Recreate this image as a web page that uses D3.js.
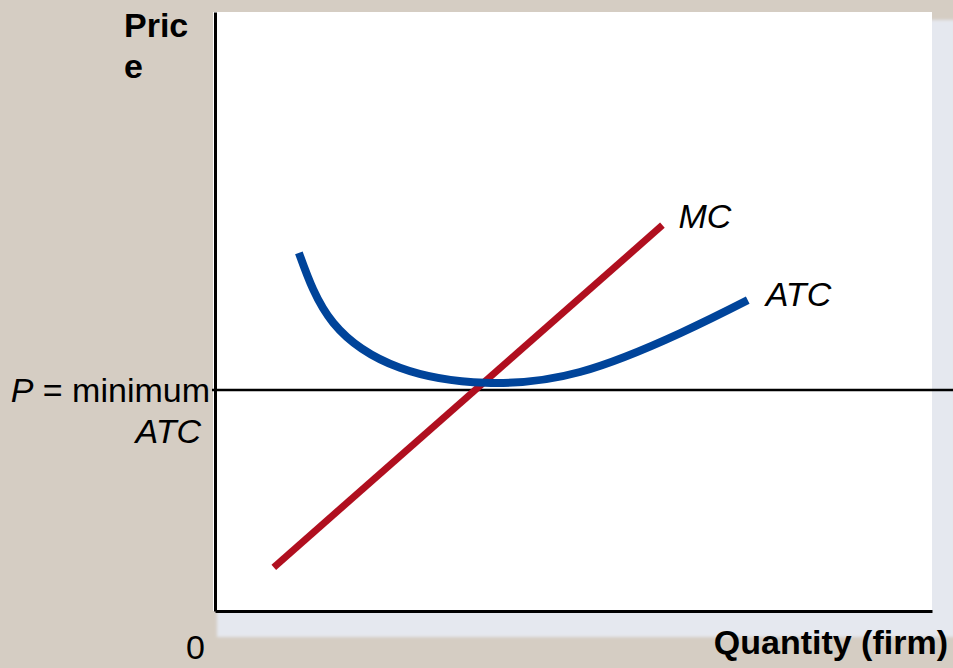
<!DOCTYPE html>
<html>
<head>
<meta charset="utf-8">
<script src="https://cdn.jsdelivr.net/npm/d3@7"></script>
<style>
  html, body { margin: 0; padding: 0; background: #d5cdc3; }
  svg { display: block; }
  text { font-family: "Liberation Sans", Arial, sans-serif; }
</style>
</head>
<body>
<svg id="chart" width="953" height="668"></svg>
<script>
// ---- data (abstract units 0..100 on both axes) ----
const mcQuantity = [8.2, 62.4];
const mcCost = [7.3, 64.4];
const atcQuantity = [11.7, 16.5, 25.8, 37.7, 50.9, 64.9, 74.3];
const atcCost = [59.8, 48.1, 40.6, 38.1, 39.9, 46.4, 51.9];
const priceLevel = [36.9];
const priceLabels = ["P = minimum", "ATC"];
const axisLabels = ["Pric", "e", "Quantity (firm)", "0"];
const curveLabels = ["MC", "ATC"];

const W = 953, H = 668;
const svg = d3.select("#chart");
const x = d3.scaleLinear().domain([0, 100]).range([215, 932]);
const y = d3.scaleLinear().domain([0, 100]).range([611, 12]);

// shadow
const defs = svg.append("defs");
const blur = defs.append("filter").attr("id", "soft").attr("x", "-5%").attr("y", "-5%").attr("width", "110%").attr("height", "110%");
blur.append("feGaussianBlur").attr("stdDeviation", 1.5);

svg.append("rect")
  .attr("x", x(0) + 2).attr("y", y(100) + 8)
  .attr("width", W - x(0)).attr("height", y(0) + 26 - y(100) - 8)
  .attr("fill", "#e5e8ef").attr("filter", "url(#soft)");

// white panel
svg.append("rect")
  .attr("x", x(0) - 2).attr("y", y(100))
  .attr("width", x(100) - x(0) + 2).attr("height", y(0) - y(100))
  .attr("fill", "#ffffff");

// price line (extends across and beyond panel)
svg.selectAll("line.price").data(priceLevel).enter().append("line")
  .attr("class", "price")
  .attr("x1", x(0) - 3).attr("x2", W)
  .attr("y1", d => y(d)).attr("y2", d => y(d))
  .attr("stroke", "#000").attr("stroke-width", 2.5);

// axes (domain lines only)
const xAxis = d3.axisBottom(x).tickValues([]).tickSizeOuter(0);
const yAxis = d3.axisLeft(y).tickValues([]).tickSizeOuter(0);
const gx = svg.append("g").attr("transform", `translate(0,${y(0)})`).call(xAxis);
const gy = svg.append("g").attr("transform", `translate(${x(0)},0)`).call(yAxis);
gx.select(".domain").attr("stroke", "#000").attr("stroke-width", 3);
gy.select(".domain").attr("stroke", "#000").attr("stroke-width", 3);

// MC line
const mcData = mcQuantity.map((q, i) => [q, mcCost[i]]);
svg.append("path")
  .datum(mcData)
  .attr("d", d3.line().x(d => x(d[0])).y(d => y(d[1])))
  .attr("fill", "none").attr("stroke", "#b00f1f").attr("stroke-width", 7);

// ATC curve
const atcData = atcQuantity.map((q, i) => [q, atcCost[i]]);
svg.append("path")
  .datum(atcData)
  .attr("d", d3.line().curve(d3.curveNatural).x(d => x(d[0])).y(d => y(d[1])))
  .attr("fill", "none").attr("stroke", "#00449a").attr("stroke-width", 8);

// text
const fs = 34;
svg.append("text").attr("x", 124).attr("y", 37).attr("font-size", fs).attr("font-weight", "bold").text(axisLabels[0]);
svg.append("text").attr("x", 124).attr("y", 78).attr("font-size", fs).attr("font-weight", "bold").text(axisLabels[1]);
svg.append("text").attr("x", 948).attr("y", 654).attr("font-size", fs).attr("font-weight", "bold").attr("text-anchor", "end").text(axisLabels[2]);
svg.append("text").attr("x", 205).attr("y", 659).attr("font-size", fs).attr("text-anchor", "end").text(axisLabels[3]);

const pl = svg.append("text").attr("x", 210).attr("y", y(priceLevel[0]) + 12).attr("font-size", fs).attr("text-anchor", "end");
pl.append("tspan").attr("font-style", "italic").text("P");
pl.append("tspan").text(" = " + priceLabels[0].split(" = ")[1]);
svg.append("text").attr("x", 201).attr("y", y(priceLevel[0]) + 53).attr("font-size", fs).attr("font-style", "italic").attr("text-anchor", "end").text(priceLabels[1]);

svg.append("text").attr("x", x(mcQuantity[1]) + 16).attr("y", y(mcCost[1]) + 3).attr("font-size", fs).attr("font-style", "italic").text(curveLabels[0]);
svg.append("text").attr("x", x(atcQuantity[atcQuantity.length - 1]) + 18).attr("y", y(atcCost[atcCost.length - 1]) + 6).attr("font-size", fs).attr("font-style", "italic").text(curveLabels[1]);
</script>
</body>
</html>
